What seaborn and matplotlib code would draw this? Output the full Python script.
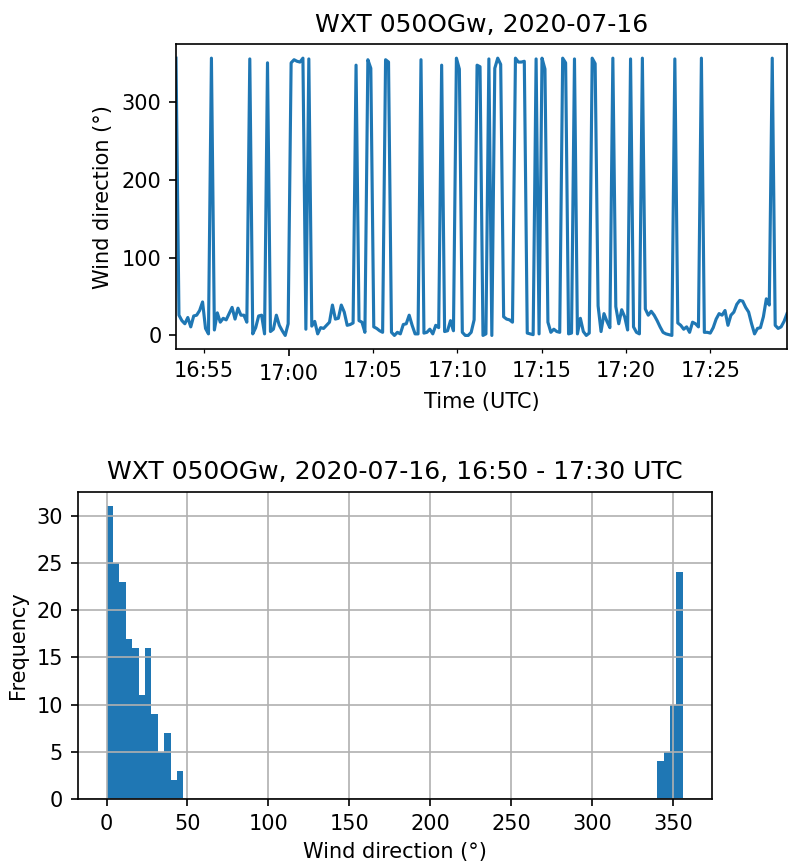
import matplotlib
matplotlib.use("Agg")
import matplotlib.pyplot as plt
import matplotlib.dates as mdates
import numpy as np
import pandas as pd
import seaborn as sns

# ---- data ----
start_time = "2020-07-16 16:53:20"
end_time = "2020-07-16 17:29:32"

direction_part1 = [356, 26, 19, 15, 23, 11, 25, 26, 32, 43, 9, 2, 356, 7, 29, 17, 22, 20,
                   28, 36, 21, 35, 26, 26, 17, 355, 2, 10, 25, 26, 2, 350, 5, 8, 26, 13,
                   6, 0, 15, 350, 354, 352, 351, 356, 8, 355, 12, 18, 2, 10, 9, 13, 17]
direction_part2 = [39, 21, 22, 39, 30, 13, 14, 16, 347, 19, 17, 4, 354, 343, 11, 9, 6, 4,
                   354, 351, 4, 0, 4, 2, 14, 15, 26, 13, 2, 2, 354, 3, 4, 8, 2, 13, 10,
                   347, 5, 6, 19, 6, 356, 342, 4, 0, 0, 4, 20, 347, 345]
direction_part3 = [0, 2, 355, 0, 343, 356, 348, 24, 21, 20, 17, 356, 351, 351, 352, 3, 2,
                   1, 355, 2, 356, 342, 17, 4, 8, 5, 4, 356, 350, 2, 3, 355, 2, 22, 5, 0,
                   3, 356, 349, 38, 5, 28, 18, 10, 356, 37, 15, 33, 24, 7, 355, 11]
direction_part4 = [4, 2, 356, 34, 26, 31, 26, 19, 11, 4, 2, 1, 0, 355, 16, 13, 8, 11, 4,
                   17, 15, 11, 356, 4, 4, 3, 10, 21, 28, 26, 32, 13, 26, 30, 40, 45, 44,
                   36, 30, 15, 2, 9, 10, 24, 47, 39, 356, 13, 9, 11, 18, 28]

direction = np.array(direction_part1 + direction_part2 + direction_part3 + direction_part4)
times = pd.date_range(start=start_time, end=end_time, periods=len(direction))

title_top = "WXT 050OGw, 2020-07-16"
title_bottom = "WXT 050OGw, 2020-07-16, 16:50 - 17:30 UTC"
n_bins = 90
blue = "#1f77b4"

plt.rcParams["font.family"] = ["DejaVu Sans"]

W, H, DPI = 788, 865, 150
fig = plt.figure(figsize=(W / DPI, H / DPI), dpi=DPI)
ax1 = fig.add_axes([176 / W, 1 - 349.3 / H, 611 / W, 305 / H])
ax2 = fig.add_axes([77.7 / W, 1 - 799 / H, 634 / W, 307.3 / H])

# ---- top: time series ----
sns.lineplot(x=times, y=direction, ax=ax1, color=blue, linewidth=1.5)
ax1.set_xlim(times[0], times[-1])
ax1.xaxis.set_major_locator(mdates.HourLocator())
ax1.xaxis.set_major_formatter(mdates.DateFormatter("%H:%M"))
ax1.xaxis.set_minor_locator(mdates.MinuteLocator(byminute=range(0, 60, 5)))
ax1.xaxis.set_minor_formatter(mdates.DateFormatter("%H:%M"))
ax1.set_xlabel("Time (UTC)")
ax1.set_ylabel("Wind direction (°)")
ax1.set_title(title_top)

# ---- bottom: histogram ----
sns.histplot(x=direction, bins=n_bins, ax=ax2, color=blue, alpha=1,
             edgecolor="none", linewidth=0)
ax2.grid(True, color="#b0b0b0", linewidth=0.8)
ax2.set_xlabel("Wind direction (°)")
ax2.set_ylabel("Frequency")
ax2.set_title(title_bottom)

fig.savefig("out.png", dpi=DPI)
